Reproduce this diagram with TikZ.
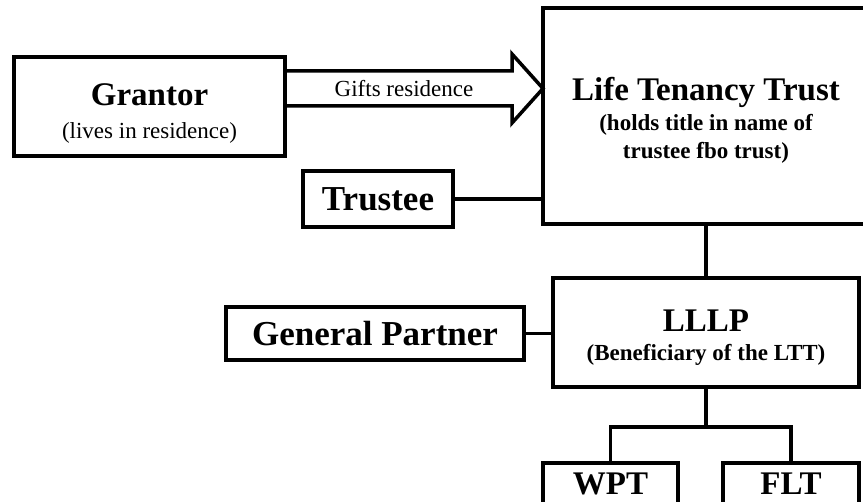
\documentclass[tikz,border=0pt]{standalone}
\usepackage{fontspec}
\setmainfont{Liberation Serif}
\usetikzlibrary{calc}

\newcommand{\boxhead}{\bfseries\fontsize{33}{36}\selectfont}
\newcommand{\boxsub}{\fontsize{23}{28}\selectfont}
% invisible strut, pushes a two-line label a bit lower in its box
\newcommand{\lowerby}[1]{\rule{0pt}{#1}}

\begin{document}
\begin{tikzpicture}[x=1pt, y=-1pt, every node/.style={draw, outer sep=0pt, line width=3.7pt, align=center, font=\boxsub}]
	\tikzstyle{link}=[line width=3.7pt]
	\tikzstyle{gift}=[line width=3.5pt, line join=miter]
	\tikzstyle{plain}=[draw=none, inner sep=0pt]

	\useasboundingbox (0,0) rectangle (863,502);
	\clip (0,0) rectangle (863,502);

	\node (LTT) [minimum width=326pt, minimum height=216pt, anchor=north west] at (543,8)
		{{\boxhead\lowerby{31pt}Life Tenancy Trust}\\[2pt]\bfseries (holds title in name of\\\bfseries trustee fbo trust)};

	\node (grantor) at (LTT.north west) [xshift=-258pt, yshift=-49pt, anchor=north east, minimum width=271pt, minimum height=99pt]
		{{\boxhead\lowerby{36pt}Grantor}\\[5pt](lives in residence)};

	\node (trustee) at (LTT.west) [xshift=-90pt, yshift=-83pt, anchor=east, minimum width=150pt, minimum height=56pt]
		{\boxhead\fontsize{35}{38}\selectfont Trustee};

	\node (LLLP) at (LTT.south) [yshift=-54pt, anchor=north, minimum width=306pt, minimum height=109pt]
		{{\boxhead\lowerby{32pt}LLLP}\\[1pt]\bfseries (Beneficiary of the LTT)};

	\node (GP) at (LLLP.west) [xshift=-29pt, yshift=-1pt, anchor=east, minimum width=298pt, minimum height=53pt]
		{\boxhead\fontsize{35}{38}\selectfont General Partner};

	\node (WPT) at (LLLP.south) [xshift=-95.5pt, yshift=-76pt, anchor=north, minimum width=135pt, minimum height=42pt]
		{\boxhead WPT};
	\node (FLT) at (LLLP.south) [xshift=85pt, yshift=-76pt, anchor=north, minimum width=136pt, minimum height=42pt]
		{\boxhead FLT};

	% hollow arrow from the grantor into the trust
	\coordinate (tail) at ($(grantor.north east)+(0,31.5)$);
	\coordinate (tip) at (tail -| LTT.west);
	\draw [gift] ($(tail)+(0,-17.5)$) -- ($(tip)+(-31,-17.5)$) -- ($(tip)+(-31,-34.5)$) -- (tip)
		-- ($(tip)+(-31,34.5)$) -- ($(tip)+(-31,17.5)$) -- ($(tail)+(0,17.5)$);
	\node (gifts) [plain] at ($(tail)!0.5!(tip)+(-10,0)$) {Gifts residence};

	\draw [link] (trustee.east) -- (trustee.east -| LTT.west);
	\draw [link] (LTT.south) -- (LLLP.north);
	\draw [link] (GP.east) -- (GP.east -| LLLP.west);

	% split down to the two trusts
	\draw [link] (LLLP.south) -- ++(0,40) coordinate (split) -| (WPT.north);
	\draw [link] (split) -| (FLT.north);
\end{tikzpicture}
\end{document}
